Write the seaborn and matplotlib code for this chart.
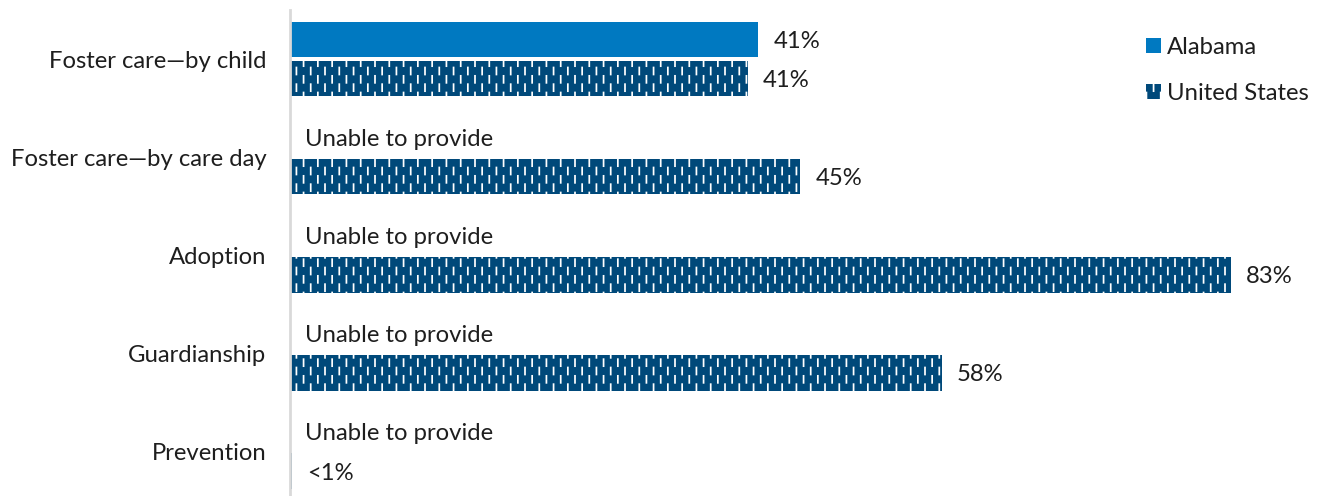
import numpy as np
import pandas as pd
import matplotlib
matplotlib.use("Agg")
import matplotlib.pyplot as plt
import matplotlib.hatch as mhatch
from matplotlib.path import Path
from matplotlib.patches import Patch
import seaborn as sns

# ---- data ----
categories = ["Foster care\u2014by child", "Foster care\u2014by care day",
              "Adoption", "Guardianship", "Prevention"]
series = ["Alabama", "United States"]
alabama_values = [41.3, 0, 0, 0, 0]
us_values = [40.4, 45.0, 83.0, 57.5, 0.2]
alabama_labels = ["41%", "Unable to provide", "Unable to provide",
                  "Unable to provide", "Unable to provide"]
us_labels = ["41%", "45%", "83%", "58%", "<1%"]

colors = ["#0079C1", "#00497A"]
text_color = "#1e1e1e"


# ---- custom brick-dash hatch (replaces the '|' hatch) ----
class BrickDashHatch(mhatch.HatchPatternBase):
    ncols = 14
    nrows = 6
    dash = 0.07

    def __init__(self, hatch, density):
        self.on = hatch.count('|') > 0
        self.num_vertices = self.ncols * self.nrows * 2 if self.on else 0

    def set_vertices_and_codes(self, vertices, codes):
        i = 0
        for c in range(self.ncols):
            x = (c + 0.5) / self.ncols
            off = 0.5 / self.nrows if c % 2 else 0.0
            for r in range(self.nrows):
                y0 = r / self.nrows + off + 0.005
                vertices[i] = (x, y0)
                vertices[i + 1] = (x, y0 + self.dash)
                codes[i] = Path.MOVETO
                codes[i + 1] = Path.LINETO
                i += 2


mhatch._hatch_types = [BrickDashHatch if t is mhatch.VerticalHatch else t
                       for t in mhatch._hatch_types]

sns.set_style("white")
plt.rcParams['font.family'] = ['Lato', 'DejaVu Sans']
plt.rcParams['hatch.linewidth'] = 1.25

FS = 17.2

df = pd.DataFrame({
    "category": categories * 2,
    "series": [series[0]] * len(categories) + [series[1]] * len(categories),
    "value": alabama_values + us_values,
})

fig = plt.figure(figsize=(13.22, 4.96), dpi=100)
ax = fig.add_axes([290 / 1322, 0, 1020 / 1322, 486 / 496])

sns.barplot(data=df, y="category", x="value", hue="series", orient="h",
            order=categories, hue_order=series, palette=colors,
            width=0.8, gap=0.1, saturation=1, linewidth=0,
            legend=False, ax=ax)

# hatch on US bars
for bar in ax.containers[1]:
    bar.set_hatch('|')
    bar.set_edgecolor('white')
    bar.set_linewidth(0)

texts = []
texts += ax.bar_label(ax.containers[0], labels=alabama_labels, padding=11,
                      fontsize=FS, color=text_color)
texts += ax.bar_label(ax.containers[1], labels=us_labels, padding=11,
                      fontsize=FS, color=text_color)
for t in texts:
    t.set_va("center_baseline")

ax.set_xlim(0, 90)
ax.set_ylim(4.454, -0.5)
ax.set_xlabel("")
ax.set_ylabel("")
ax.xaxis.set_visible(False)
ax.tick_params(axis="y", length=0, pad=17, labelsize=FS, labelcolor=text_color)
for s in ["top", "right", "bottom"]:
    ax.spines[s].set_visible(False)
ax.spines["left"].set_color("#d9d9d9")
ax.spines["left"].set_linewidth(2)

handles = [Patch(facecolor=colors[0], edgecolor='none', linewidth=0),
           Patch(facecolor=colors[1], edgecolor='white', linewidth=0, hatch='|')]
fig.legend(handles, series, loc="upper left",
           bbox_to_anchor=(1146 / 1322, 1 - 37 / 496),
           bbox_transform=fig.transFigure, frameon=False, fontsize=FS,
           borderpad=0, borderaxespad=0, handlelength=0.62, handleheight=0.62,
           handletextpad=0.25, labelspacing=1.05, labelcolor=text_color)

fig.savefig("out.png", dpi=100)
